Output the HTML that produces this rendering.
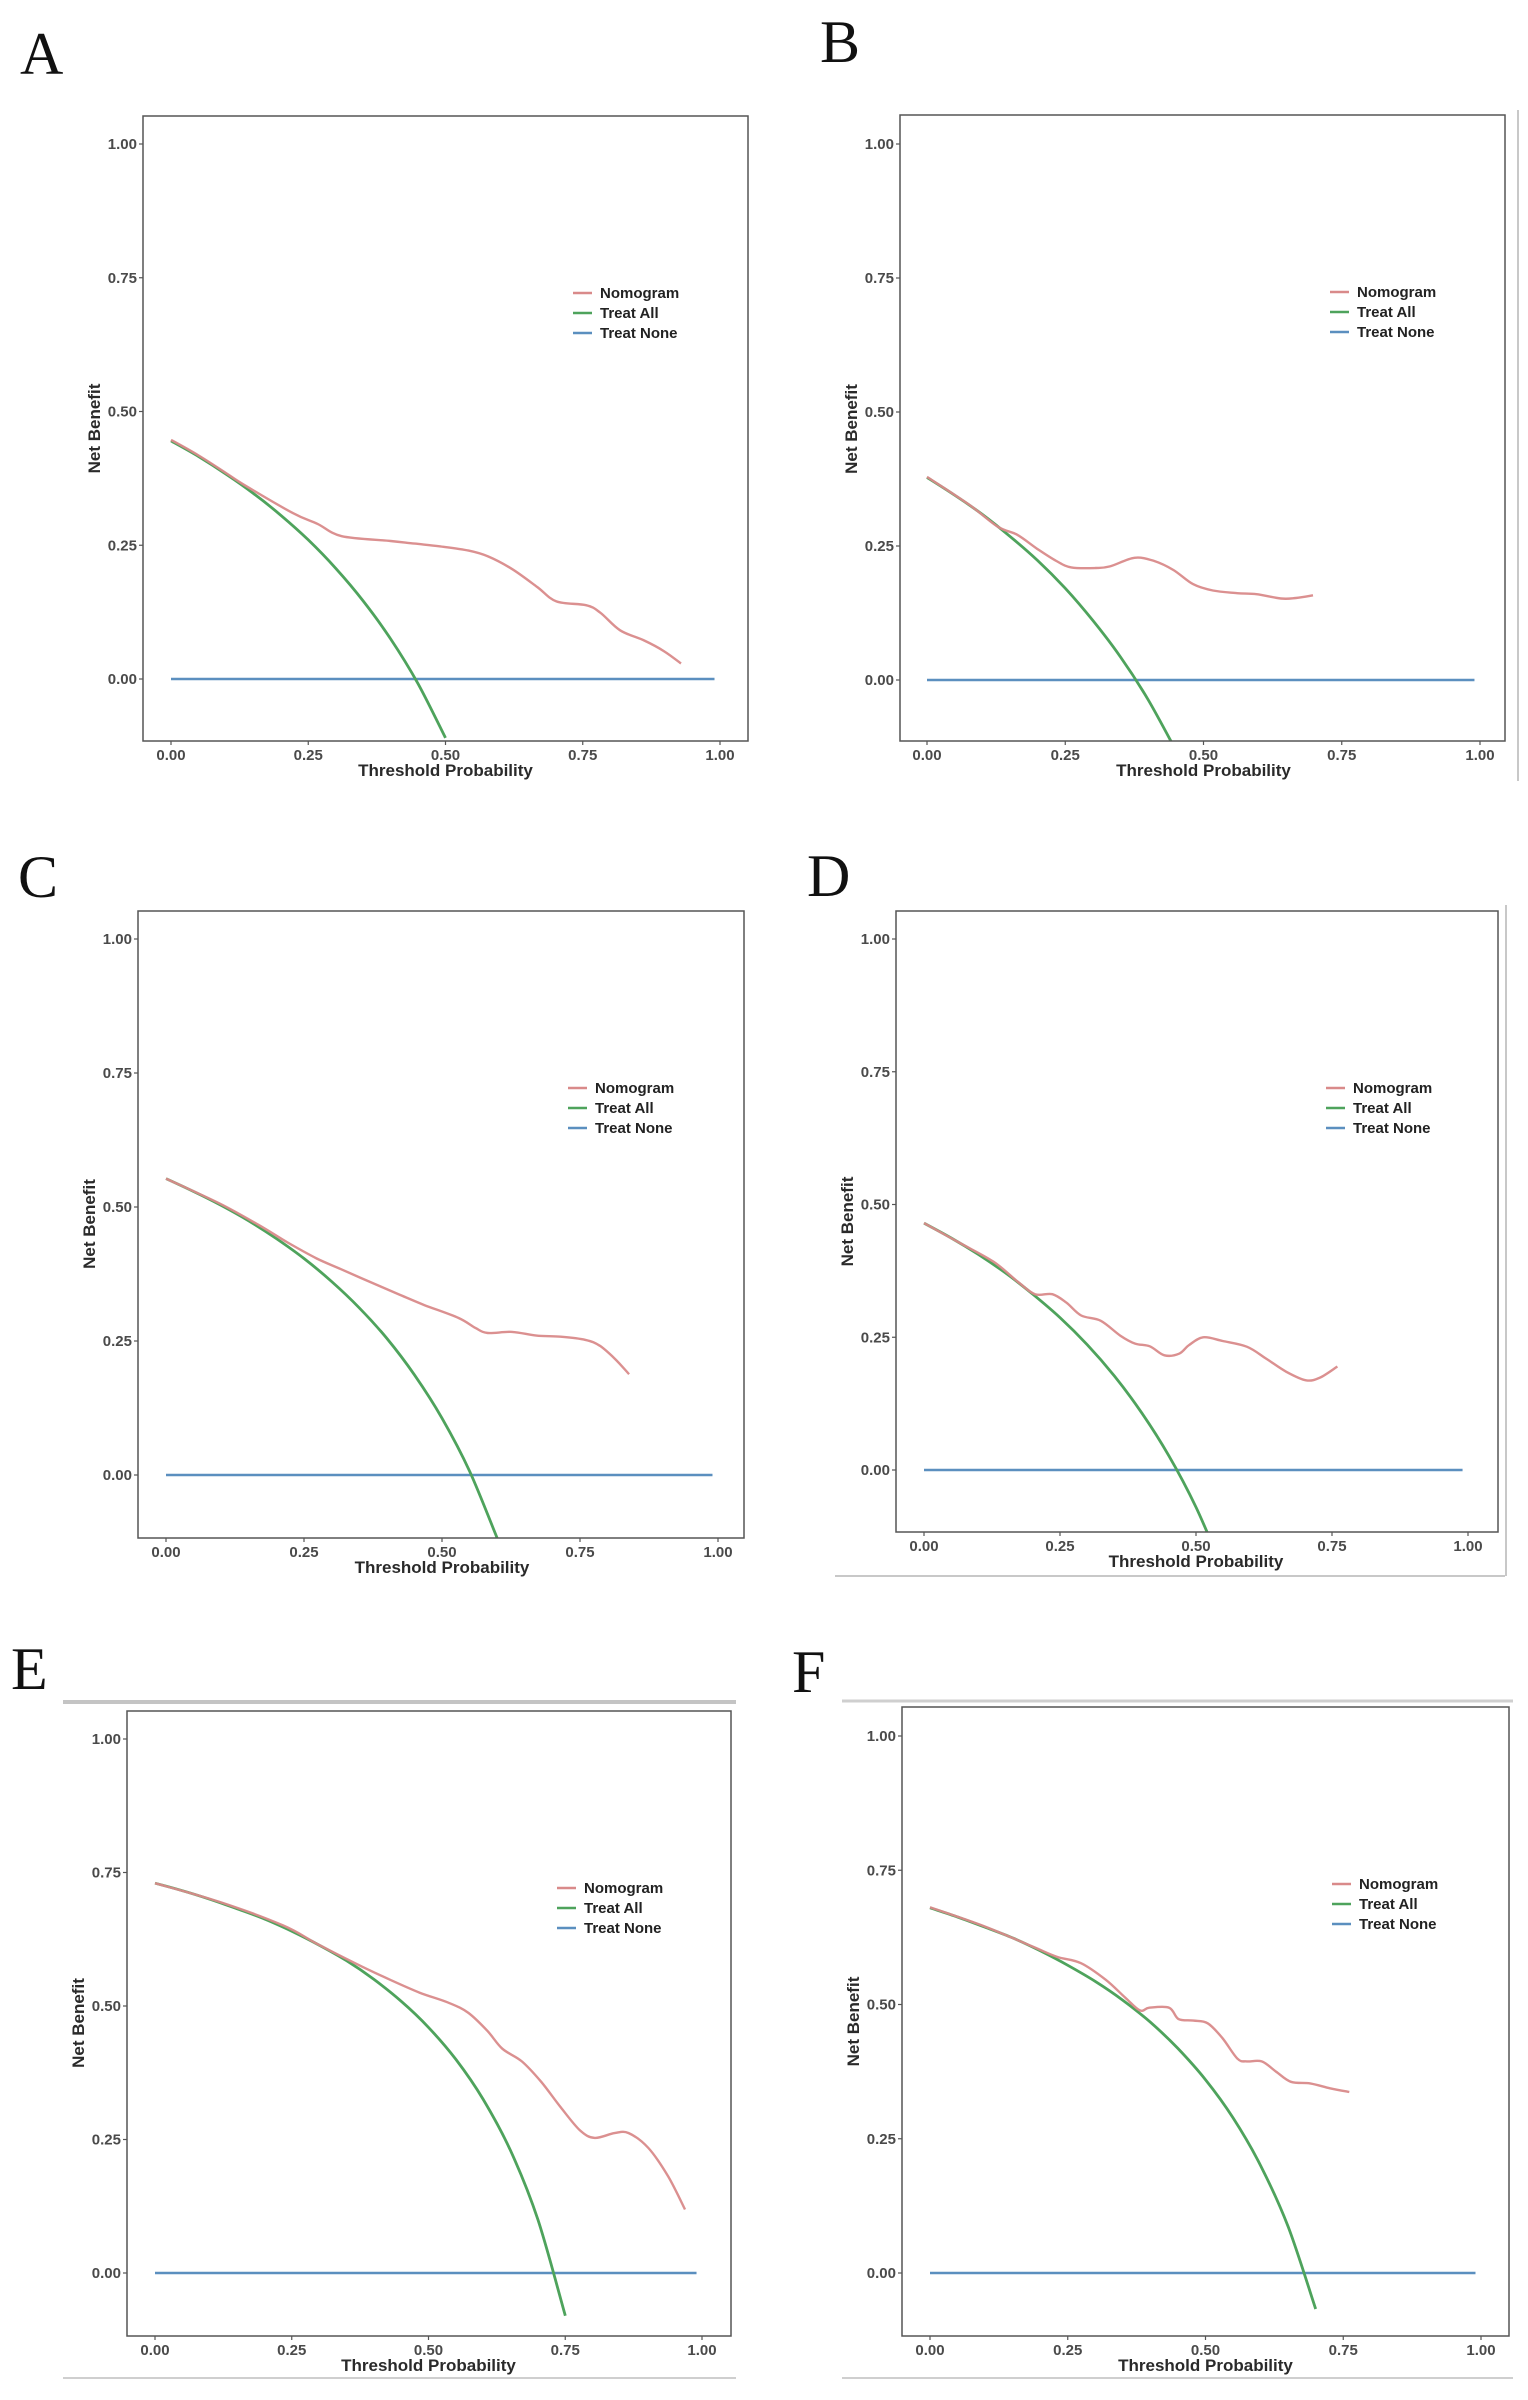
<!DOCTYPE html>
<html><head><meta charset="utf-8">
<style>
html,body{margin:0;padding:0;background:#fff;}
svg{display:block;}
.tick{font-family:"Liberation Sans",sans-serif;font-weight:bold;font-size:15px;fill:#4a4a4a;}
.ttl{font-family:"Liberation Sans",sans-serif;font-weight:bold;font-size:17px;fill:#2a2a2a;}
.leg{font-family:"Liberation Sans",sans-serif;font-weight:bold;font-size:15px;fill:#222;}
.let{font-family:"Liberation Serif",serif;font-size:60px;fill:#111;}
</style></head>
<body>
<svg id="fig" width="1528" height="2400" viewBox="0 0 1528 2400" xmlns="http://www.w3.org/2000/svg">
<line x1="1518" y1="110" x2="1518" y2="781" stroke="#c8c8c8" stroke-width="2"/>
<line x1="835" y1="1576" x2="1505" y2="1576" stroke="#c8c8c8" stroke-width="2"/>
<line x1="1506" y1="905" x2="1506" y2="1576" stroke="#c8c8c8" stroke-width="2"/>
<line x1="63" y1="1702" x2="736" y2="1702" stroke="#c4c4c4" stroke-width="4"/>
<line x1="63" y1="2378" x2="736" y2="2378" stroke="#cfcfcf" stroke-width="2"/>
<line x1="842" y1="1701" x2="1513" y2="1701" stroke="#cfcfcf" stroke-width="3"/>
<line x1="842" y1="2378" x2="1513" y2="2378" stroke="#cfcfcf" stroke-width="2"/>
</svg>
<script>
// ---- data ----
const xTickLabels = ["0.00","0.25","0.50","0.75","1.00"];
const xTickValues = [0,0.25,0.5,0.75,1];
const yTickLabels = ["0.00","0.25","0.50","0.75","1.00"];
const yTickValues = [0,0.25,0.5,0.75,1];
const treatAllT = [0,0.05,0.1,0.15,0.2,0.25,0.3,0.35,0.4,0.45,0.5,0.55,0.6,0.65,0.7,0.75];
const treatAllA = [0.445,0.416,0.383,0.347,0.306,0.260,0.207,0.146,0.075,-0.009,-0.110];
const treatAllB = [0.378,0.345,0.309,0.268,0.223,0.171,0.111,0.043,-0.037,-0.131];
const treatAllC = [0.553,0.529,0.503,0.474,0.441,0.404,0.361,0.312,0.255,0.187,0.106,0.007,-0.118];
const treatAllD = [0.465,0.437,0.406,0.371,0.331,0.287,0.236,0.177,0.108,0.027,-0.070,-0.189];
const treatAllE = [0.73,0.716,0.70,0.682,0.663,0.64,0.614,0.585,0.55,0.509,0.46,0.40,0.325,0.229,0.10,-0.08];
const treatAllF = [0.68,0.663,0.644,0.624,0.60,0.573,0.543,0.508,0.467,0.418,0.36,0.289,0.20,0.086,-0.067];
const nomoA_t = [0,0.05,0.1,0.133,0.222,0.267,0.311,0.4,0.444,0.489,0.542,0.578,0.622,0.667,0.702,0.756,0.782,0.818,0.862,0.898,0.929];
const nomoA_nb = [0.447,0.418,0.385,0.363,0.31,0.29,0.267,0.258,0.253,0.248,0.24,0.229,0.205,0.172,0.145,0.138,0.124,0.091,0.072,0.052,0.029];
const nomoB_t = [0,0.075,0.128,0.163,0.199,0.234,0.261,0.305,0.331,0.375,0.411,0.446,0.481,0.517,0.561,0.596,0.64,0.667,0.698];
const nomoB_nb = [0.379,0.328,0.286,0.271,0.245,0.222,0.21,0.209,0.212,0.228,0.222,0.205,0.179,0.167,0.162,0.16,0.152,0.153,0.158];
const nomoC_t = [0,0.096,0.167,0.22,0.273,0.317,0.37,0.424,0.468,0.53,0.561,0.583,0.627,0.671,0.715,0.76,0.786,0.813,0.839];
const nomoC_nb = [0.553,0.507,0.467,0.434,0.404,0.384,0.36,0.336,0.317,0.293,0.274,0.265,0.267,0.26,0.258,0.252,0.241,0.217,0.188];
const nomoD_t = [0,0.065,0.128,0.173,0.204,0.236,0.262,0.289,0.325,0.361,0.388,0.415,0.442,0.469,0.487,0.513,0.549,0.594,0.63,0.666,0.702,0.728,0.76];
const nomoD_nb = [0.465,0.428,0.392,0.354,0.331,0.331,0.315,0.291,0.281,0.253,0.238,0.233,0.216,0.219,0.235,0.25,0.243,0.232,0.209,0.185,0.169,0.174,0.195];
const nomoE_t = [0,0.118,0.234,0.297,0.368,0.43,0.484,0.537,0.573,0.608,0.635,0.671,0.706,0.742,0.777,0.804,0.84,0.866,0.902,0.938,0.969];
const nomoE_nb = [0.73,0.695,0.651,0.616,0.579,0.549,0.525,0.506,0.487,0.453,0.42,0.396,0.358,0.31,0.267,0.253,0.262,0.262,0.234,0.181,0.119];
const nomoF_t = [0,0.1,0.186,0.23,0.274,0.319,0.354,0.381,0.398,0.434,0.451,0.478,0.504,0.531,0.558,0.575,0.602,0.628,0.655,0.69,0.726,0.761];
const nomoF_nb = [0.681,0.645,0.608,0.589,0.577,0.546,0.513,0.489,0.494,0.494,0.473,0.47,0.465,0.437,0.399,0.394,0.394,0.375,0.356,0.353,0.344,0.337];

// ---- layout ----
const panels = [
 {id:"a",letter:"A",lx:20,ly:74,L:143,R:748,T:116,B:741,x0:171,x1:720,y0:679,y1:144,ta:treatAllA,nt:nomoA_t,nv:nomoA_nb},
 {id:"b",letter:"B",lx:820,ly:62,L:900,R:1505,T:115,B:741,x0:927,x1:1480,y0:680,y1:144,ta:treatAllB,nt:nomoB_t,nv:nomoB_nb},
 {id:"c",letter:"C",lx:18,ly:897,L:138,R:744,T:911,B:1538,x0:166,x1:718,y0:1475,y1:939,ta:treatAllC,nt:nomoC_t,nv:nomoC_nb},
 {id:"d",letter:"D",lx:807,ly:896,L:896,R:1498,T:911,B:1532,x0:924,x1:1468,y0:1470,y1:939,ta:treatAllD,nt:nomoD_t,nv:nomoD_nb},
 {id:"e",letter:"E",lx:11,ly:1689,L:127,R:731,T:1711,B:2336,x0:155,x1:702,y0:2273,y1:1739,ta:treatAllE,nt:nomoE_t,nv:nomoE_nb},
 {id:"f",letter:"F",lx:792,ly:1692,L:902,R:1509,T:1707,B:2336,x0:930,x1:1481,y0:2273,y1:1736,ta:treatAllF,nt:nomoF_t,nv:nomoF_nb}
];
const NS="http://www.w3.org/2000/svg";
const svg=document.getElementById("fig");
function mk(tag,attrs,parent){const e=document.createElementNS(NS,tag);for(const k in attrs)e.setAttribute(k,attrs[k]);(parent||svg).appendChild(e);return e;}
function smooth(pts){
  if(pts.length<2)return "";
  let d="M"+pts[0][0].toFixed(1)+","+pts[0][1].toFixed(1);
  for(let i=0;i<pts.length-1;i++){
    const p0=pts[i-1]||pts[i],p1=pts[i],p2=pts[i+1],p3=pts[i+2]||p2;
    const c1x=p1[0]+(p2[0]-p0[0])/6,c1y=p1[1]+(p2[1]-p0[1])/6;
    const c2x=p2[0]-(p3[0]-p1[0])/6,c2y=p2[1]-(p3[1]-p1[1])/6;
    d+="C"+c1x.toFixed(1)+","+c1y.toFixed(1)+" "+c2x.toFixed(1)+","+c2y.toFixed(1)+" "+p2[0].toFixed(1)+","+p2[1].toFixed(1);
  }
  return d;
}
panels.forEach(p=>{
  const sx=v=>p.x0+(p.x1-p.x0)*v;
  const sy=v=>p.y0-(p.y0-p.y1)*v;
  const g=mk("g",{});
  
  
  const lt=mk("text",{x:p.lx,y:p.ly,class:"let"},g); lt.textContent=p.letter;
  
  
  const cp=mk("clipPath",{id:"clip"+p.id},g);
  mk("rect",{x:p.L,y:p.T,width:p.R-p.L,height:p.B-p.T},cp);
  yTickValues.forEach((v,i)=>{
    const y=sy(v);
    const tk=mk("line",{x1:p.L-4,x2:p.L,y1:y,y2:y,stroke:"#555","stroke-width":1.2},g);
    
    
    const t=mk("text",{x:p.L-6,y:y+5,class:"tick","text-anchor":"end"},g); t.textContent=yTickLabels[i];
    
    
  });
  xTickValues.forEach((v,i)=>{
    const x=sx(v);
    const tk=mk("line",{x1:x,x2:x,y1:p.B,y2:p.B+4,stroke:"#555","stroke-width":1.2},g);
    
    
    const t=mk("text",{x:x,y:p.B+19,class:"tick","text-anchor":"middle"},g); t.textContent=xTickLabels[i];
    
    
  });
  const xt=mk("text",{x:(p.x0+p.x1)/2,y:p.B+35,class:"ttl","text-anchor":"middle"},g); xt.textContent="Threshold Probability";
  
  
  const ycx=p.L-49, ycy=(p.y0+p.y1)/2+17;
  const yt=mk("text",{x:ycx,y:ycy,class:"ttl","text-anchor":"middle",transform:"rotate(-90 "+ycx+" "+ycy+")",dy:"6"},g); yt.textContent="Net Benefit";
  
  
  const cg=mk("g",{"clip-path":"url(#clip"+p.id+")"},g);
  const tn=mk("line",{x1:sx(0),x2:sx(0.99),y1:sy(0),y2:sy(0),stroke:"#5b8fbf","stroke-width":2.6},cg);
  
  
  const tpts=p.ta.map((v,i)=>[sx(treatAllT[i]),sy(v)]);
  const ta=mk("path",{d:smooth(tpts),fill:"none",stroke:"#4ea35c","stroke-width":2.8},cg);
  
  
  const npts=p.nt.map((t,i)=>[sx(t),sy(p.nv[i])]);
  const nm=mk("path",{d:smooth(npts),fill:"none",stroke:"#d98a8a","stroke-width":2.4,"stroke-opacity":0.95},cg);
  
  
  const bx=mk("rect",{x:p.L,y:p.T,width:p.R-p.L,height:p.B-p.T,fill:"none",stroke:"#555","stroke-width":1.5},g);
  
  
  const legItems=[["Nomogram","#d98a8a"],["Treat All","#4ea35c"],["Treat None","#5b8fbf"]];
  legItems.forEach((it,i)=>{
    const y=p.T+177+i*20;
    const ll=mk("line",{x1:p.L+430,x2:p.L+449,y1:y,y2:y,stroke:it[1],"stroke-width":2.4},g);
    
    
    const lt2=mk("text",{x:p.L+457,y:y+5,class:"leg"},g); lt2.textContent=it[0];
    
    
  });
});
</script>
</body></html>
